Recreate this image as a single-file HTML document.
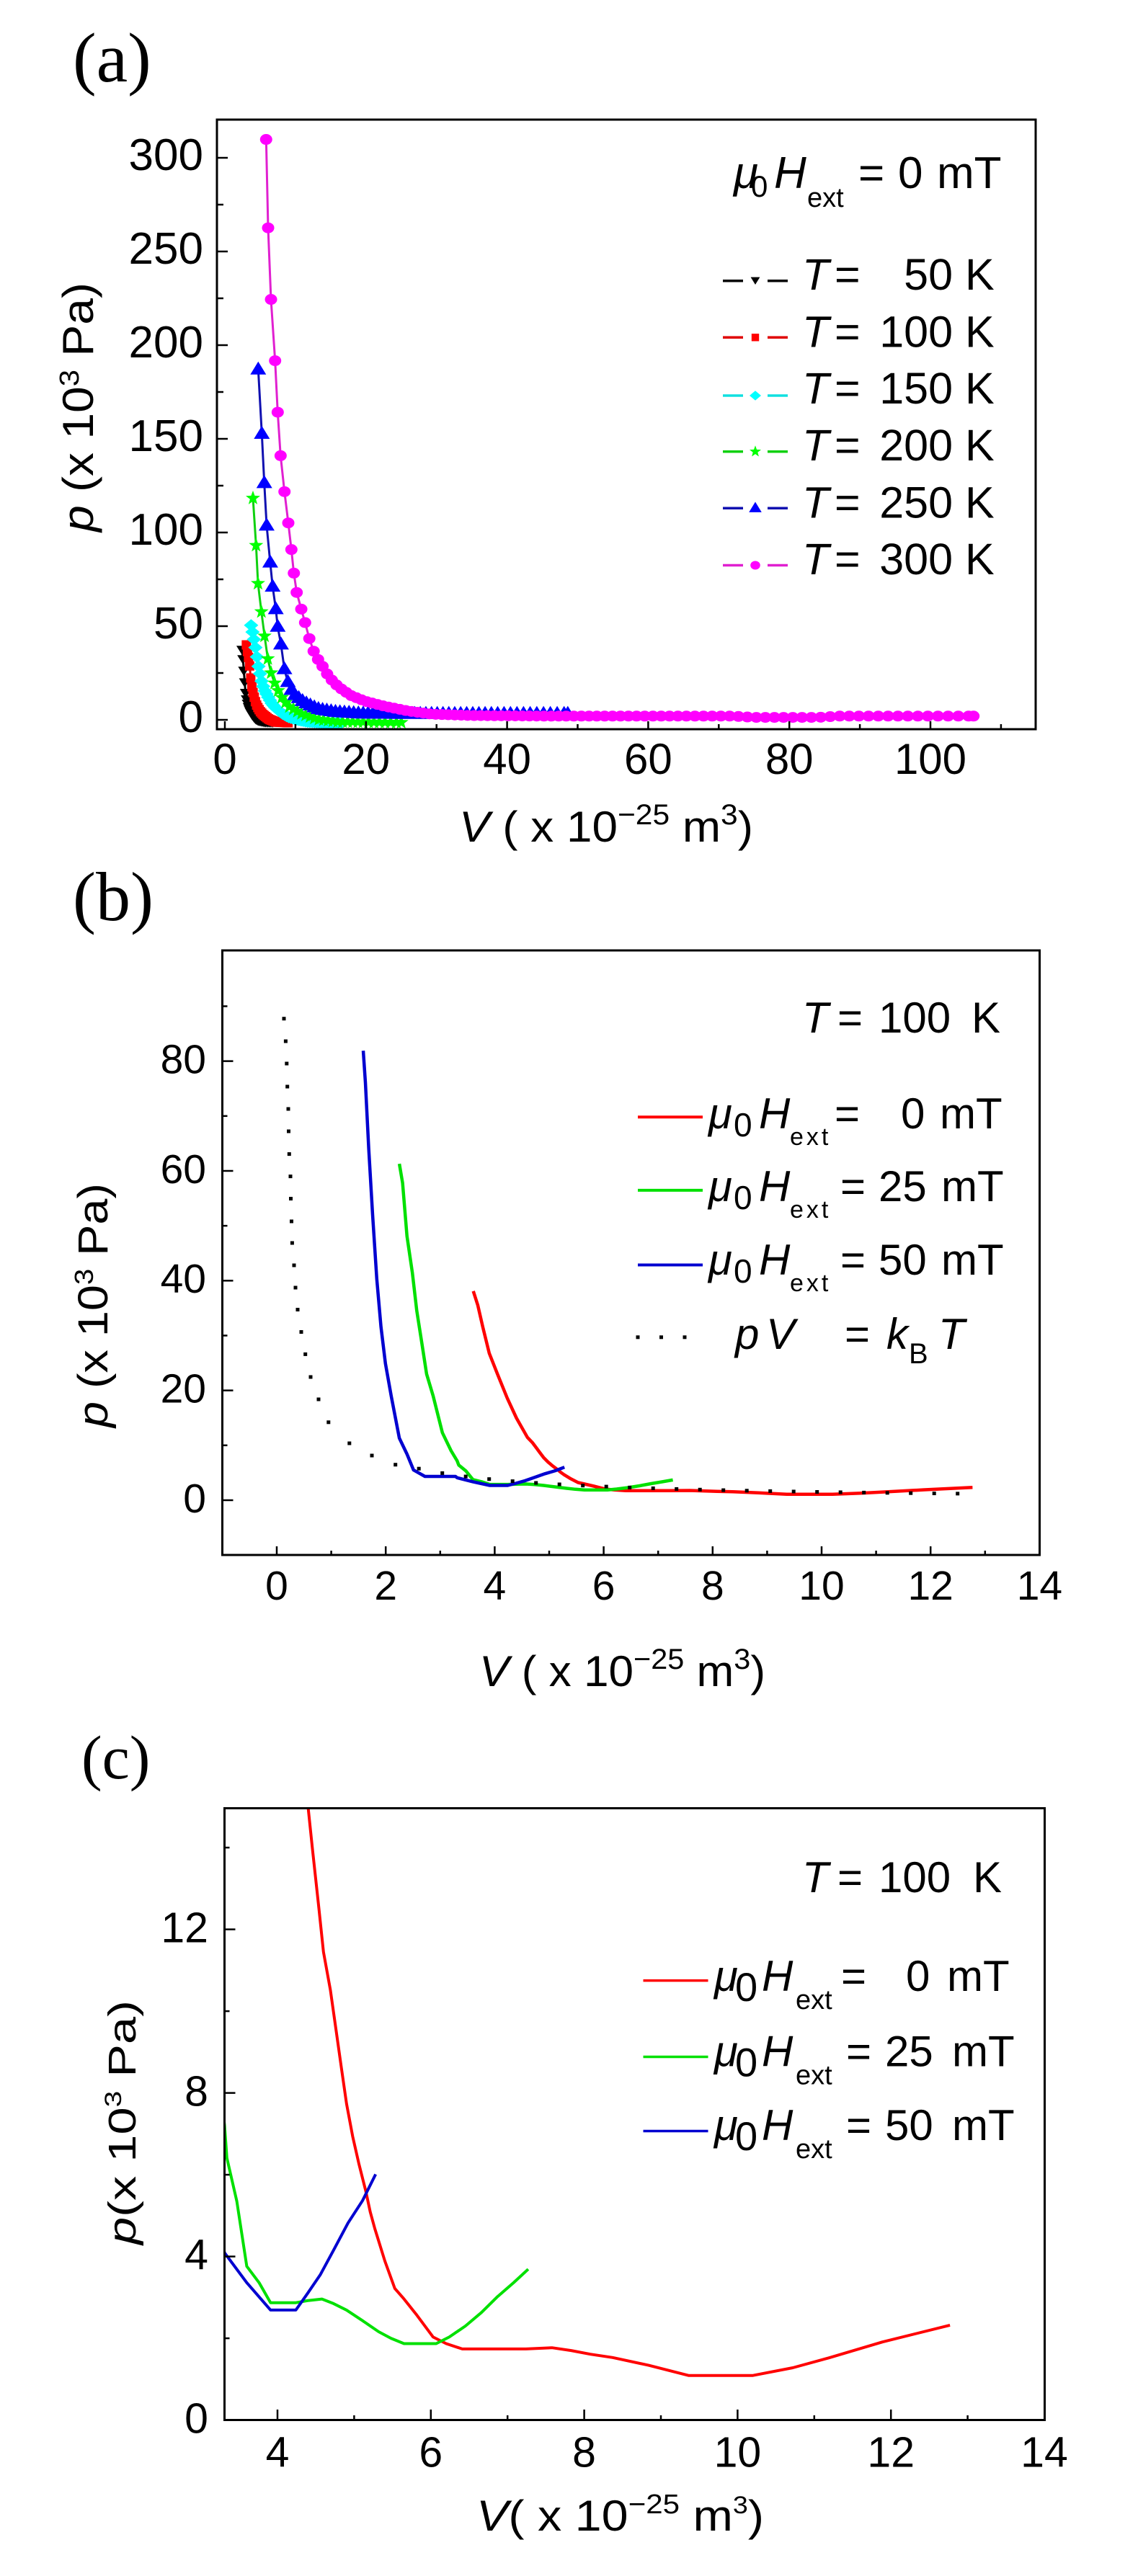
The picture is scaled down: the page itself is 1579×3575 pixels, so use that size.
<!DOCTYPE html>
<html><head><meta charset="utf-8">
<style>
html,body{margin:0;padding:0;background:#fff;}
svg{display:block;}
text{font-family:"Liberation Sans",Arial,sans-serif;fill:#000;}
.serif{font-family:"Liberation Serif","Times New Roman",serif;}
</style></head><body>
<svg id="s" width="1579" height="3575" viewBox="0 0 1579 3575" xmlns="http://www.w3.org/2000/svg">
<defs>
<clipPath id="ca"><rect x="301" y="166" width="1136" height="846"/></clipPath>
<clipPath id="cb"><rect x="308.5" y="1319" width="1134" height="839"/></clipPath>
<clipPath id="cc"><rect x="311.5" y="2509.5" width="1138" height="849"/></clipPath>
</defs>
<rect x="0" y="0" width="1579" height="3575" fill="#fff"/>
<g id="ga" clip-path="url(#ca)"></g>
<g id="gb" clip-path="url(#cb)"></g>
<g id="gc" clip-path="url(#cc)"></g>
<g id="tk"></g>
<g id="lg"></g>

<rect x="301" y="166" width="1136" height="846" fill="none" stroke="#000" stroke-width="3"/>
<rect x="308.5" y="1319" width="1134" height="839" fill="none" stroke="#000" stroke-width="3"/>
<rect x="311.5" y="2509.5" width="1138" height="849" fill="none" stroke="#000" stroke-width="3"/>

<!-- panel labels -->
<text class="serif" x="101" y="113" font-size="98">(a)</text>
<text class="serif" x="101" y="1277" font-size="96">(b)</text>
<text class="serif" x="113" y="2468" font-size="86">(c)</text>

<!-- (a) tick labels -->
<g font-size="62" text-anchor="end">
<text x="282" y="1016">0</text>
<text x="282" y="886">50</text>
<text x="282" y="756">100</text>
<text x="282" y="626">150</text>
<text x="282" y="496">200</text>
<text x="282" y="366">250</text>
<text x="282" y="236">300</text>
</g>
<g font-size="60" text-anchor="middle">
<text x="312" y="1074">0</text>
<text x="507.8" y="1074">20</text>
<text x="703.6" y="1074">40</text>
<text x="899.4" y="1074">60</text>
<text x="1095.2" y="1074">80</text>
<text x="1291" y="1074">100</text>
</g>
<text x="637" y="1168" font-size="60" textLength="408" lengthAdjust="spacingAndGlyphs"><tspan font-style="italic">V</tspan> ( x 10<tspan font-size="40" dy="-24">−25</tspan><tspan dy="24"> m</tspan><tspan font-size="40" dy="-24">3</tspan><tspan dy="24">)</tspan></text>
<text transform="translate(129,738) rotate(-90)" x="0" y="0" font-size="60" textLength="346" lengthAdjust="spacingAndGlyphs"><tspan font-style="italic">p</tspan> (x 10<tspan font-size="38" dy="-20">3</tspan><tspan dy="20"> Pa)</tspan></text>

<!-- (a) legend -->
<text y="261" font-size="62"><tspan x="1018" font-style="italic">μ</tspan><tspan x="1042" dy="12" font-size="42">0</tspan><tspan x="1074" dy="-12" font-style="italic">H</tspan><tspan x="1120" dy="26" font-size="38">ext</tspan><tspan x="1191" dy="-26">=</tspan><tspan x="1246">0</tspan><tspan x="1300">mT</tspan></text>
<g font-size="61">
<text y="402"><tspan x="1113" font-style="italic">T</tspan><tspan x="1158">=</tspan></text><text x="1322" y="402" text-anchor="end">50</text><text x="1339" y="402">K</text>
<text y="481.5"><tspan x="1113" font-style="italic">T</tspan><tspan x="1158">=</tspan></text><text x="1322" y="481.5" text-anchor="end">100</text><text x="1339" y="481.5">K</text>
<text y="560"><tspan x="1113" font-style="italic">T</tspan><tspan x="1158">=</tspan></text><text x="1322" y="560" text-anchor="end">150</text><text x="1339" y="560">K</text>
<text y="639"><tspan x="1113" font-style="italic">T</tspan><tspan x="1158">=</tspan></text><text x="1322" y="639" text-anchor="end">200</text><text x="1339" y="639">K</text>
<text y="718.5"><tspan x="1113" font-style="italic">T</tspan><tspan x="1158">=</tspan></text><text x="1322" y="718.5" text-anchor="end">250</text><text x="1339" y="718.5">K</text>
<text y="797"><tspan x="1113" font-style="italic">T</tspan><tspan x="1158">=</tspan></text><text x="1322" y="797" text-anchor="end">300</text><text x="1339" y="797">K</text>
</g>

<!-- (b) tick labels -->
<g font-size="57" text-anchor="end">
<text x="286" y="2099">0</text>
<text x="286" y="1946.6">20</text>
<text x="286" y="1794.2">40</text>
<text x="286" y="1641.8">60</text>
<text x="286" y="1489.4">80</text>
</g>
<g font-size="57" text-anchor="middle">
<text x="384" y="2220">0</text>
<text x="535.2" y="2220">2</text>
<text x="686.4" y="2220">4</text>
<text x="837.6" y="2220">6</text>
<text x="988.8" y="2220">8</text>
<text x="1140" y="2220">10</text>
<text x="1291.2" y="2220">12</text>
<text x="1442.4" y="2220">14</text>
</g>
<text x="665" y="2340" font-size="60" textLength="397" lengthAdjust="spacingAndGlyphs"><tspan font-style="italic">V</tspan> ( x 10<tspan font-size="40" dy="-24">−25</tspan><tspan dy="24"> m</tspan><tspan font-size="40" dy="-24">3</tspan><tspan dy="24">)</tspan></text>
<text transform="translate(149,1981) rotate(-90)" x="0" y="0" font-size="58" textLength="339" lengthAdjust="spacingAndGlyphs"><tspan font-style="italic">p</tspan> (x 10<tspan font-size="36" dy="-20">3</tspan><tspan dy="20"> Pa)</tspan></text>

<!-- (b) legend -->
<g font-size="60">
<text y="1433"><tspan x="1113" font-style="italic">T</tspan><tspan x="1162">=</tspan><tspan x="1219">100</tspan><tspan x="1348">K</tspan></text>
<text y="1566"><tspan x="983" font-style="italic">μ</tspan><tspan x="1018" dy="11" font-size="46">0</tspan><tspan x="1053" dy="-11" font-style="italic">H</tspan><tspan x="1096" dy="23" font-size="34" letter-spacing="4">ext</tspan><tspan x="1158" dy="-23">=</tspan><tspan x="1250">0</tspan><tspan x="1304">mT</tspan></text>
<text y="1667"><tspan x="983" font-style="italic">μ</tspan><tspan x="1018" dy="11" font-size="46">0</tspan><tspan x="1053" dy="-11" font-style="italic">H</tspan><tspan x="1096" dy="23" font-size="34" letter-spacing="4">ext</tspan><tspan x="1166" dy="-23">=</tspan><tspan x="1219">25</tspan><tspan x="1306">mT</tspan></text>
<text y="1769"><tspan x="983" font-style="italic">μ</tspan><tspan x="1018" dy="11" font-size="46">0</tspan><tspan x="1053" dy="-11" font-style="italic">H</tspan><tspan x="1096" dy="23" font-size="34" letter-spacing="4">ext</tspan><tspan x="1166" dy="-23">=</tspan><tspan x="1219">50</tspan><tspan x="1306">mT</tspan></text>
<text y="1872"><tspan x="1020" font-style="italic">p</tspan><tspan x="1063" font-style="italic">V</tspan><tspan x="1172">=</tspan><tspan x="1230" font-style="italic">k</tspan><tspan x="1261" dy="20" font-size="40">B</tspan><tspan x="1302" dy="-20" font-style="italic">T</tspan></text>
</g>

<!-- (c) tick labels -->
<g font-size="59" text-anchor="end">
<text x="289" y="3376.6">0</text>
<text x="289" y="3149.6">4</text>
<text x="289" y="2922.6">8</text>
<text x="289" y="2695.6">12</text>
</g>
<g font-size="59" text-anchor="middle">
<text x="385" y="3423.5">4</text>
<text x="597.8" y="3423.5">6</text>
<text x="810.6" y="3423.5">8</text>
<text x="1023.4" y="3423.5">10</text>
<text x="1236.2" y="3423.5">12</text>
<text x="1449" y="3423.5">14</text>
</g>
<text x="661" y="3512" font-size="60" textLength="399" lengthAdjust="spacingAndGlyphs"><tspan font-style="italic">V</tspan>( x 10<tspan font-size="38" dy="-24">−25</tspan><tspan dy="24"> m</tspan><tspan font-size="34" dy="-24">3</tspan><tspan dy="24">)</tspan></text>
<text transform="translate(188,3115) rotate(-90)" x="0" y="0" font-size="54" textLength="339" lengthAdjust="spacingAndGlyphs"><tspan font-style="italic">p</tspan>(x 10<tspan font-size="32" dy="-20">3</tspan><tspan dy="20"> Pa)</tspan></text>

<!-- (c) legend -->
<g font-size="60">
<text y="2626"><tspan x="1113" font-style="italic">T</tspan><tspan x="1162">=</tspan><tspan x="1219">100</tspan><tspan x="1350">K</tspan></text>
<text y="2763"><tspan x="991" font-style="italic">μ</tspan><tspan x="1020" dy="14" font-size="56">0</tspan><tspan x="1057" dy="-14" font-style="italic">H</tspan><tspan x="1104" dy="25" font-size="38">ext</tspan><tspan x="1167" dy="-25">=</tspan><tspan x="1257">0</tspan><tspan x="1314">mT</tspan></text>
<text y="2867.4"><tspan x="991" font-style="italic">μ</tspan><tspan x="1020" dy="14" font-size="56">0</tspan><tspan x="1057" dy="-14" font-style="italic">H</tspan><tspan x="1104" dy="25" font-size="38">ext</tspan><tspan x="1174" dy="-25">=</tspan><tspan x="1228">25</tspan><tspan x="1321">mT</tspan></text>
<text y="2970"><tspan x="991" font-style="italic">μ</tspan><tspan x="1020" dy="14" font-size="56">0</tspan><tspan x="1057" dy="-14" font-style="italic">H</tspan><tspan x="1104" dy="25" font-size="38">ext</tspan><tspan x="1174" dy="-25">=</tspan><tspan x="1228">50</tspan><tspan x="1321">mT</tspan></text>
</g>
</svg>
<script>
(function(){
const NS="http://www.w3.org/2000/svg";
function el(p,t,a){const e=document.createElementNS(NS,t);for(const k in a)e.setAttribute(k,a[k]);p.appendChild(e);return e;}
function interp(c,v){if(v<=c[0][0])return c[0][1];for(let i=1;i<c.length;i++){if(v<=c[i][0]){const t=(v-c[i-1][0])/(c[i][0]-c[i-1][0]);return c[i-1][1]+t*(c[i][1]-c[i-1][1]);}}return c[c.length-1][1];}
function marker(g,type,x,y,col,s){
 switch(type){
  case 'dtri':el(g,'polygon',{points:`${x-8*s},${y-6.5*s} ${x+8*s},${y-6.5*s} ${x},${y+6.5*s}`,fill:col});break;
  case 'sq':el(g,'rect',{x:x-6.5*s,y:y-6.5*s,width:13*s,height:13*s,fill:col});break;
  case 'dia':el(g,'polygon',{points:`${x},${y-8.5*s} ${x+10*s},${y} ${x},${y+8.5*s} ${x-10*s},${y}`,fill:col});break;
  case 'star':{const P=[];for(let i=0;i<10;i++){const r=i%2?4.3*s:10.5*s;const a=-Math.PI/2+i*Math.PI/5;P.push((x+r*Math.cos(a)).toFixed(1)+','+(y+r*Math.sin(a)).toFixed(1));}el(g,'polygon',{points:P.join(' '),fill:col});}break;
  case 'tri':el(g,'polygon',{points:`${x-11*s},${y+7*s} ${x+11*s},${y+7*s} ${x},${y-11*s}`,fill:col});break;
  case 'circ':el(g,'ellipse',{cx:x,cy:y,rx:8.5*s,ry:7.5*s,fill:col});break;
 }
}
function markersFor(c,nFixed,a){
 const v0=c[0][0],vend=c[c.length-1][0];
 const pts=c.slice(0,nFixed).map(q=>[q[0],q[1]]);
 let v=c[nFixed-1][0];
 while(true){v+=a*Math.pow(v/v0,0.4);if(v>vend+1e-6)break;pts.push([v,interp(c,v)]);}
 if(pts[pts.length-1][0]<vend-0.3)pts.push([vend,interp(c,vend)]);
 return pts;
}
// ---------- Panel (a)
const ga=document.getElementById('ga');
const XA=v=>312+9.79*v, YA=p=>999-2.6*p;
const series=[
 {c:[[2.45,37],[2.55,33],[2.65,28],[2.75,23],[2.85,18],[2.98,12.5],[3.15,9],[3.37,6],[3.6,4],[3.88,2.2],[4.3,0.2],[4.73,-0.8],[5.6,-1.5],[6.9,-1.7]],n:1,a:0.12,m:'dtri',col:'#000000',lc:'#000000'},
 {c:[[3.05,40],[3.2,36.5],[3.37,33],[3.54,27.8],[3.71,20.5],[3.9,16],[4.05,13.7],[4.3,10],[4.56,7.3],[5.0,4.5],[5.41,2.8],[6.26,0.3],[7.28,-1.2],[9.0,-1.5]],n:1,a:0.15,m:'sq',col:'#ff0000',lc:'#e00000'},
 {c:[[3.72,50.5],[4.05,44.5],[4.39,37.4],[4.73,29.1],[5.24,20.1],[5.6,16],[6.1,12.4],[6.6,9],[7.28,6.0],[8.2,3.2],[8.99,1.5],[10.3,0],[11.7,-1],[14.4,-1.7],[16.5,-1.8]],n:1,a:0.2,m:'dia',col:'#00ffff',lc:'#10e0e0'},
 {c:[[3.98,118.3],[4.42,93.1],[4.70,72.8],[5.18,57.7],[5.59,45.8],[5.92,35.5],[6.43,26.5],[7.12,18.8],[7.97,12.4],[8.99,7.3],[10.7,3.5],[13.1,0.3],[16,-1],[25,-1.4]],n:4,a:0.4,m:'star',col:'#00ff00',lc:'#10d010'},
 {c:[[4.73,187],[5.24,152.7],[5.59,126.4],[5.92,103.7],[6.43,84],[6.77,71.1],[7.22,59.1],[7.49,49.7],[7.97,40],[8.55,24],[9.25,17],[10.0,13],[11.2,9.5],[12.5,7],[13.4,5.6],[15.8,4.2],[19.2,3.4],[25,3.2],[48.6,3.2]],n:8,a:0.39,m:'tri',col:'#0000ff',lc:'#1010b0'},
 {c:[[5.85,309.8],[6.13,262.6],[6.54,224.4],[7.12,191.7],[7.49,164.2],[7.9,141],[8.45,121.8],[8.99,105.1],[9.43,90.9],[9.78,78.3],[10.18,68],[10.83,59.1],[11.37,51.9],[11.88,44.5],[12.39,38.1],[13.07,33],[13.76,29.1],[14.78,22.7],[16.1,17.6],[17.8,13.1],[19.9,9.9],[22.6,7.3],[26,4.7],[29.4,3.0],[35,2.3],[45,2.0],[72,2.0],[75,1.3],[84,1.3],[87,2.0],[106.1,2.0]],n:13,a:0.46,m:'circ',col:'#ff00ff',lc:'#e020d0'}
];
series.forEach(S=>{
 const pts=markersFor(S.c,S.n,S.a);
 el(ga,'polyline',{points:pts.map(q=>XA(q[0]).toFixed(1)+','+YA(q[1]).toFixed(1)).join(' '),fill:'none',stroke:S.lc,'stroke-width':3,'stroke-linejoin':'round'});
 pts.forEach(q=>marker(ga,S.m,XA(q[0]),YA(q[1]),S.col,1));
});
// legend (a)
const lg=document.getElementById('lg');
const rows=[[389.8,'dtri','#000000','#000000'],[468.3,'sq','#ff0000','#e00000'],[549,'dia','#00ffff','#10e0e0'],[626.7,'star','#00ff00','#10d010'],[705.3,'tri','#0000ff','#1010b0'],[784.5,'circ','#ff00ff','#e020d0']];
rows.forEach(r=>{
 el(lg,'line',{x1:1003,y1:r[0],x2:1031,y2:r[0],stroke:r[3],'stroke-width':3.5});
 el(lg,'line',{x1:1065,y1:r[0],x2:1093,y2:r[0],stroke:r[3],'stroke-width':3.5});
 marker(lg,r[1],1048,r[0],r[2],0.8);
});
// ---------- data for (b),(c)
const red=[[3.607,38.1],[3.69,35.5],[3.78,31.6],[3.90,26.8],[4.05,23.0],[4.23,18.6],[4.40,14.97],[4.456,13.97],[4.54,12.51],[4.60,11.45],[4.69,10.52],[4.77,9.46],[4.83,8.66],[4.90,7.74],[4.98,6.94],[5.06,6.28],[5.15,5.61],[5.21,5.09],[5.27,4.68],[5.40,3.89],[5.53,3.22],[5.65,2.96],[5.82,2.56],[6.03,2.03],[6.20,1.87],[6.41,1.74],[7.24,1.74],[7.58,1.77],[7.83,1.70],[8.08,1.61],[8.37,1.53],[8.84,1.34],[9.36,1.09],[10.2,1.09],[10.72,1.28],[11.19,1.52],[11.89,1.91],[12.77,2.32]];
const green=[[2.25,61.3],[2.31,57.8],[2.39,48.1],[2.49,41.4],[2.57,34.5],[2.66,28.8],[2.75,23.0],[2.87,19.0],[3.04,12.3],[3.2,9.0],[3.31,7.2],[3.34,6.41],[3.47,5.35],[3.60,3.76],[3.76,3.36],[3.91,2.87],[4.24,2.87],[4.39,2.92],[4.58,2.96],[4.73,2.85],[4.90,2.69],[5.11,2.43],[5.32,2.16],[5.48,2.0],[5.65,1.87],[6.07,1.87],[6.24,2.03],[6.45,2.30],[6.66,2.63],[6.87,3.02],[7.08,3.36],[7.27,3.69]];
const blue=[[1.587,81.9],[1.627,76.1],[1.688,64.1],[1.759,52.0],[1.836,40.3],[1.913,31.6],[1.995,24.9],[2.10,19.0],[2.25,11.3],[2.39,8.4],[2.51,5.5],[2.72,4.33],[3.28,4.33],[3.31,4.09],[3.60,3.36],[3.91,2.69],[4.24,2.69],[4.39,3.09],[4.56,3.56],[4.73,4.15],[4.92,4.82],[5.11,5.37],[5.28,6.01]];
function drawLine(g,d,X,Y,col,w){el(g,'polyline',{points:d.map(q=>X(q[0]).toFixed(1)+','+Y(q[1]).toFixed(1)).join(' '),fill:'none',stroke:col,'stroke-width':w,'stroke-linejoin':'round','stroke-linecap':'butt'});}
// (b)
const gb=document.getElementById('gb');
const XB=v=>384+75.6*v, YB=p=>2082-7.617*p;
drawLine(gb,red,XB,YB,'#ff0000',4.5);
drawLine(gb,green,XB,YB,'#00e000',4.5);
drawLine(gb,blue,XB,YB,'#0000d0',4.5);
const dots=[[394,1413.7],[396.4,1445],[397.8,1476],[398.7,1508],[400,1539],[400.5,1570],[401.3,1601.6],[403,1632.6],[403.5,1663.5],[404.5,1695],[405.4,1725],[408,1756],[410,1787],[413,1817.5],[418,1848.5],[423.7,1879.4],[431,1911],[442,1942],[455.8,1973.8],[484.8,2003],[516,2020],[548.7,2032.7]];
for(let x=581.2;x<=1335;x+=32.5){const v=(x-384)/75.6;dots.push([x,YB(15/v)]);}
dots.forEach(d=>el(gb,'rect',{x:d[0]-2.5,y:d[1]-2.5,width:5,height:5,fill:'#000'}));
// legend (b)
el(lg,'line',{x1:885,y1:1550.3,x2:975,y2:1550.3,stroke:'#ff0000','stroke-width':4});
el(lg,'line',{x1:885,y1:1651.9,x2:975,y2:1651.9,stroke:'#00e000','stroke-width':4});
el(lg,'line',{x1:885,y1:1755.5,x2:975,y2:1755.5,stroke:'#0000d0','stroke-width':4});
[885,917.5,950].forEach(x=>el(lg,'rect',{x:x-2.5,y:1853.3,width:5,height:5,fill:'#000'}));
// (c)
const gc=document.getElementById('gc');
const XC=v=>385+106.4*(v-4), YC=p=>3358.6-56.75*p;
drawLine(gc,red,XC,YC,'#ff0000',4);
drawLine(gc,green,XC,YC,'#00e000',4);
drawLine(gc,blue,XC,YC,'#0000d0',4);
el(lg,'line',{x1:892.5,y1:2748.6,x2:982.5,y2:2748.6,stroke:'#ff0000','stroke-width':3.5});
el(lg,'line',{x1:892.5,y1:2854.5,x2:982.5,y2:2854.5,stroke:'#00e000','stroke-width':3.5});
el(lg,'line',{x1:892.5,y1:2957.5,x2:982.5,y2:2957.5,stroke:'#0000d0','stroke-width':3.5});
// ---------- ticks
const tk=document.getElementById('tk');
function t(x1,y1,x2,y2){el(tk,'line',{x1:x1,y1:y1,x2:x2,y2:y2,stroke:'#000','stroke-width':2.5});}
// (a)
for(let v=0;v<=100;v+=20)t(XA(v),1012,XA(v),1001);
for(let v=10;v<=110;v+=20)t(XA(v),1012,XA(v),1005);
for(let p=0;p<=300;p+=50)t(301,YA(p),316,YA(p));
for(let p=25;p<=300;p+=50)t(301,YA(p),310,YA(p));
// (b)
for(let v=0;v<=12;v+=2)t(XB(v),2158,XB(v),2146);
for(let v=1;v<=13;v+=2)t(XB(v),2158,XB(v),2152);
for(let p=0;p<=80;p+=20)t(308.5,YB(p),323.5,YB(p));
for(let p=10;p<=90;p+=20)t(308.5,YB(p),315.5,YB(p));
// (c)
for(let v=4;v<=12;v+=2)t(XC(v),3359,XC(v),3344);
for(let v=5;v<=13;v+=2)t(XC(v),3359,XC(v),3352);
for(let p=4;p<=12;p+=4)t(311.5,YC(p),326.5,YC(p));
for(let p=2;p<=14;p+=4)t(311.5,YC(p),318.5,YC(p));
})();
</script>
</body></html>
